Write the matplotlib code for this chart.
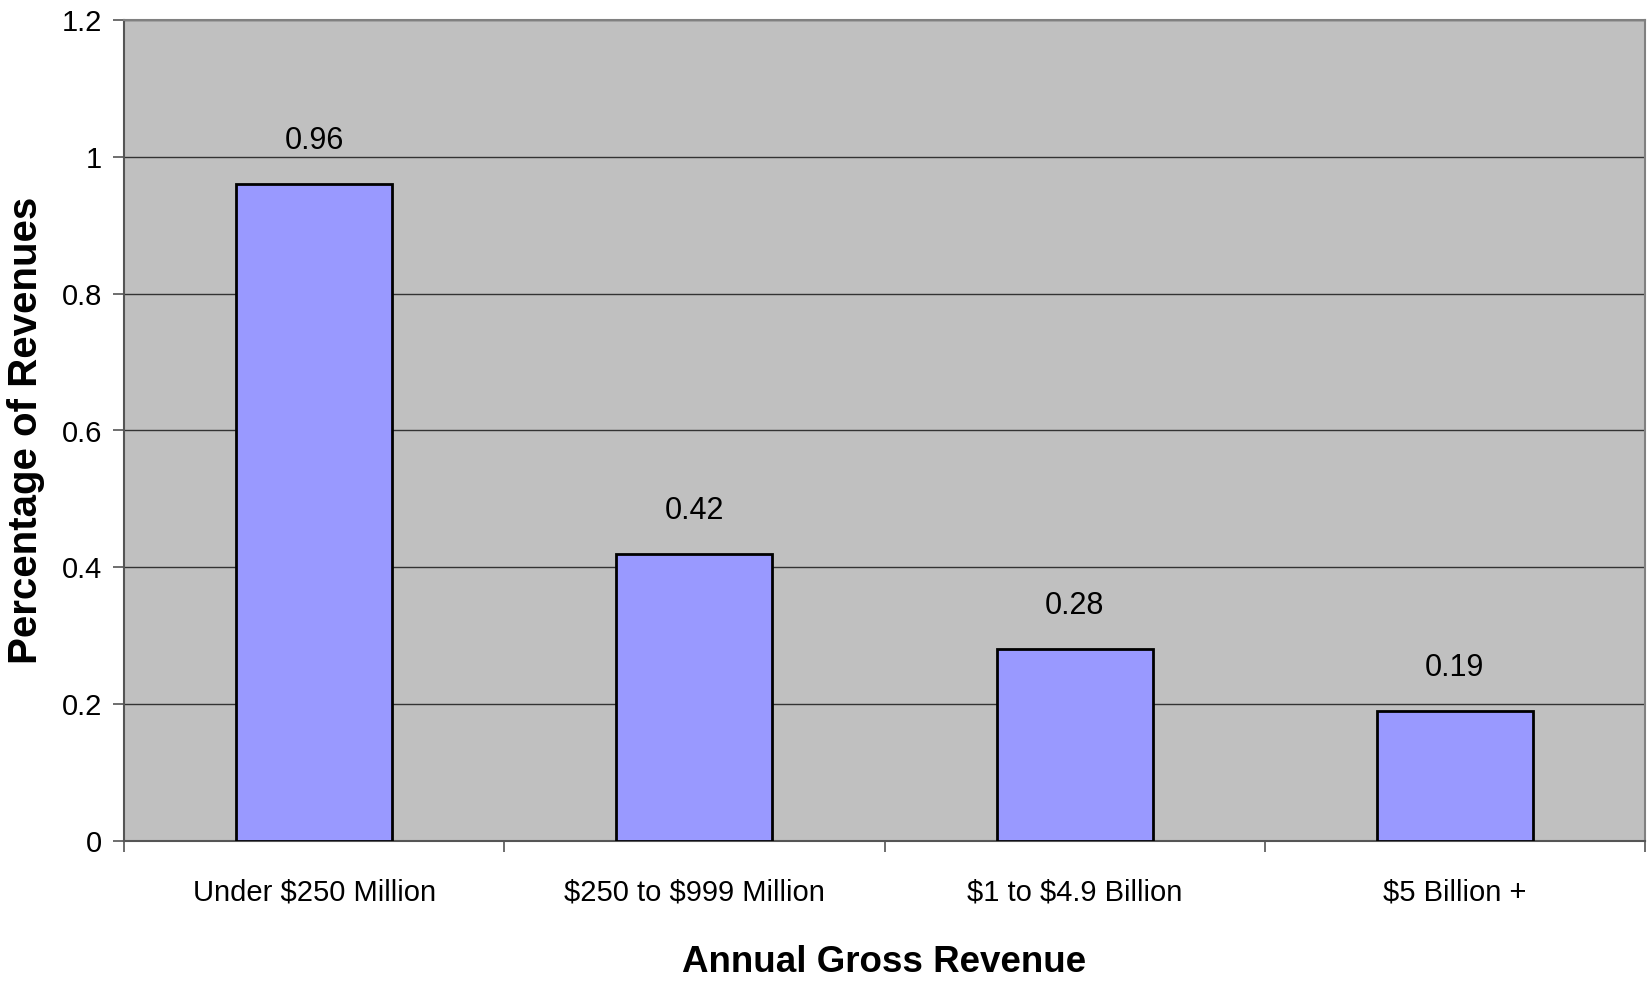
import matplotlib.pyplot as plt

# --- Data ---
categories = ["Under \\$250 Million", "\\$250 to \\$999 Million", "\\$1 to \\$4.9 Billion", "\\$5 Billion +"]
values = [0.96, 0.42, 0.28, 0.19]
yticks = [0, 0.2, 0.4, 0.6, 0.8, 1, 1.2]
ytick_labels = ["0", "0.2", "0.4", "0.6", "0.8", "1", "1.2"]

plt.rcParams['font.family'] = ["Liberation Sans", "DejaVu Sans"]

fig = plt.figure(figsize=(16.48, 9.81), dpi=100)
ax = fig.add_axes([124 / 1648, 1 - 841 / 981, 1521 / 1648, 821 / 981])
ax.set_facecolor("#c0c0c0")

x = range(len(categories))
bars = ax.bar(x, values, width=0.41, color="#9999ff", edgecolor="black", linewidth=2, zorder=3)

for xi, v in zip(x, values):
    ax.annotate(f"{v:g}", (xi, v), xytext=(0, 31), textcoords="offset points",
                ha="center", va="center", fontsize=22)

ax.set_xlim(-0.5, len(categories) - 0.5)
ax.set_ylim(0, 1.2)
ax.set_yticks(yticks)
ax.set_yticklabels(ytick_labels, fontsize=21)
ax.yaxis.grid(True, color="#333333", linewidth=1, zorder=0)
ax.set_axisbelow(True)

# category labels centred, tick marks between categories
ax.set_xticks(list(x))
ax.set_xticklabels(categories, fontsize=21)
ax.tick_params(axis="x", length=0, pad=27)
ax.set_xticks([i + 0.5 for i in range(-1, len(categories))], minor=True)
ax.tick_params(axis="x", which="minor", length=8, color="#555555", width=1.2)
ax.tick_params(axis="y", length=8, color="#555555", width=1.2, pad=8)

for side in ["top", "right"]:
    ax.spines[side].set_color("#808080")
    ax.spines[side].set_linewidth(1.5)
for side in ["left", "bottom"]:
    ax.spines[side].set_color("#555555")
    ax.spines[side].set_linewidth(1.5)

ax.set_xlabel("Annual Gross Revenue", fontsize=26.5, fontweight="bold", labelpad=28)
ax.set_ylabel("Percentage of Revenues", fontsize=29, fontweight="bold")
ax.yaxis.set_label_coords(-0.052, 0.5)

fig.savefig("out.png", dpi=100)
